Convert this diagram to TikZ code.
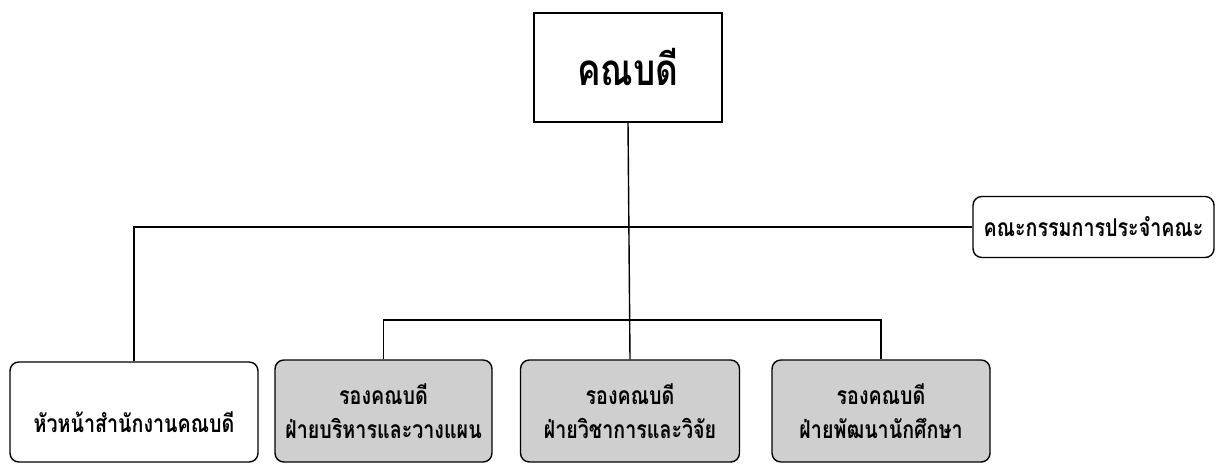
\documentclass[tikz,border=0pt]{standalone}
\usepackage{fontspec}
\newfontfamily\thaifont[Script=Thai, FakeStretch=0.8]{Loma}
\usetikzlibrary{positioning}

\tikzset{
  unit/.style={draw, thick, inner sep=0pt, align=center, font=\thaifont\bfseries\fontsize{14}{19}\selectfont},
  plain/.style={unit, fill=white, rounded corners=5pt},
  vice/.style={unit, fill=gray!38, rounded corners=5pt},
  head/.style={unit, font=\thaifont\bfseries\fontsize{25}{30}\selectfont},
  link/.style={thick}
}

\begin{document}
\begin{tikzpicture}[x=0.02cm, y=-0.02cm]
        \useasboundingbox (0,0) rectangle (1216,463);

        \node[head, minimum width=3.76cm, minimum height=2.18cm] (dean) at (628,67.5) {คณบดี};
        \node[plain, minimum width=4.82cm, minimum height=1.22cm] (board) at (1093.5,227) {คณะกรรมการประจำคณะ};

        \node[plain, minimum width=4.96cm, minimum height=2.0cm] (office) at (134,412) {};
        \node[font=\thaifont\bfseries\fontsize{14}{19}\selectfont] (officetext) at ([yshift=-0.2cm]office.center) {หัวหน้าสำนักงานคณบดี};
        \node[vice, minimum width=4.34cm, minimum height=2.04cm] (admin) at (383.5,411) {รองคณบดี\\ฝ่ายบริหารและวางแผน};
        \node[vice, minimum width=4.38cm, minimum height=2.04cm] (acad) at (630,411) {รองคณบดี\\ฝ่ายวิชาการและวิจัย};
        \node[vice, minimum width=4.36cm, minimum height=2.04cm] (stud) at (881,411) {รองคณบดี\\ฝ่ายพัฒนานักศึกษา};

        \coordinate (split) at (630,320);

        \draw[link] (dean.south) -- (acad.north);
        \draw[link] (office.north) |- (board.west);
        \draw[link] (admin.north) |- (split) -| (stud.north);
\end{tikzpicture}
\end{document}
